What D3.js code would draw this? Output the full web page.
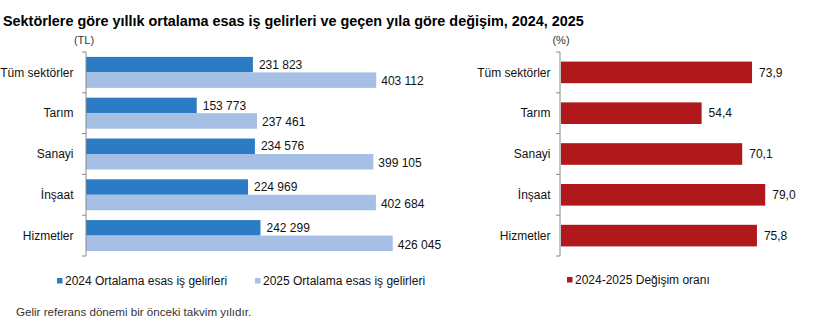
<!DOCTYPE html>
<html><head><meta charset="utf-8">
<script src="https://cdn.jsdelivr.net/npm/d3@7"></script>
<style>body{margin:0;background:#fff}svg{display:block;font-family:"Liberation Sans",Arial,sans-serif}</style>
</head><body>
<svg id="c" width="816" height="331"></svg>
<script>
const categories = ["Tüm sektörler","Tarım","Sanayi","İnşaat","Hizmetler"];
const values2024 = [231823,153773,234576,224969,242299];
const values2025 = [403112,237461,399105,402684,426045];
const changeRate = [73.9,54.4,70.1,79.0,75.8];
const seriesNames = ["2024 Ortalama esas iş gelirleri","2025 Ortalama esas iş gelirleri","2024-2025 Değişim oranı"];
const title = "Sektörlere göre yıllık ortalama esas iş gelirleri ve geçen yıla göre değişim, 2024, 2025";
const footnote = "Gelir referans dönemi bir önceki takvim yılıdır.";

const svg = d3.select("#c");
const c2024 = "#2b7cc4", c2025 = "#a6bfe4", cRed = "#b0181c", axisCol = "#8a8a8a";
const fmtTL = v => d3.format(",")(v).replace(/,/g," ");
const fmtPct = v => d3.format(".1f")(v).replace(".",",");

svg.append("text").attr("x",3).attr("y",26).attr("font-size",14.4).attr("font-weight","bold").attr("fill","#000").text(title);

const y = d3.scaleBand().domain(categories).range([52,256]).paddingInner(0).paddingOuter(0);

// Left chart
const x1 = d3.scaleLinear().domain([0,500000]).range([86,446]);
const barH = 15.5;
const gL = svg.append("g");
gL.selectAll("rect.a").data(categories).join("rect")
  .attr("x",x1(0)).attr("y",(d)=>y(d)+y.bandwidth()/2-barH)
  .attr("width",(d,i)=>x1(values2024[i])-x1(0)).attr("height",barH).attr("fill",c2024);
gL.selectAll("rect.b").data(categories).join("rect")
  .attr("x",x1(0)).attr("y",(d)=>y(d)+y.bandwidth()/2)
  .attr("width",(d,i)=>x1(values2025[i])-x1(0)).attr("height",barH).attr("fill",c2025);
gL.selectAll("text.a").data(categories).join("text")
  .attr("x",(d,i)=>x1(values2024[i])+6).attr("y",d=>y(d)+y.bandwidth()/2-barH/2)
  .attr("dy","0.35em").attr("font-size",12).attr("fill","#111").text((d,i)=>fmtTL(values2024[i]));
gL.selectAll("text.b").data(categories).join("text")
  .attr("x",(d,i)=>x1(values2025[i])+5).attr("y",d=>y(d)+y.bandwidth()/2+barH/2+1)
  .attr("dy","0.35em").attr("font-size",12).attr("fill","#111").text((d,i)=>fmtTL(values2025[i]));

function drawAxis(xpos, labelX){
  const g = svg.append("g").attr("transform",`translate(${xpos},0)`);
  g.append("line").attr("x1",0).attr("x2",0).attr("y1",52).attr("y2",256).attr("stroke",axisCol);
  const ticks = categories.map(d=>y(d)).concat([256]);
  g.selectAll("line.t").data(ticks).join("line").attr("x1",-4).attr("x2",0).attr("y1",d=>d).attr("y2",d=>d).attr("stroke",axisCol);
  svg.append("g").selectAll("text").data(categories).join("text")
    .attr("x",labelX).attr("y",d=>y(d)+y.bandwidth()/2).attr("dy","0.35em")
    .attr("text-anchor","end").attr("font-size",12).attr("fill","#111").text(d=>d);
}
drawAxis(86, 73.5);
svg.append("text").attr("x",84).attr("y",44).attr("text-anchor","middle").attr("font-size",11).attr("fill","#333").text("(TL)");

// Right chart
const x2 = d3.scaleLinear().domain([0,100]).range([561,819.5]);
const yb = y.copy().paddingInner(0.47).paddingOuter(0.235);
svg.append("g").selectAll("rect").data(categories).join("rect")
  .attr("x",x2(0)).attr("y",d=>yb(d)).attr("width",(d,i)=>x2(changeRate[i])-x2(0))
  .attr("height",yb.bandwidth()).attr("fill",cRed);
svg.append("g").selectAll("text").data(categories).join("text")
  .attr("x",(d,i)=>x2(changeRate[i])+7).attr("y",d=>y(d)+y.bandwidth()/2).attr("dy","0.35em")
  .attr("font-size",12).attr("fill","#111").text((d,i)=>fmtPct(changeRate[i]));
drawAxis(560, 550.5);
svg.append("text").attr("x",561).attr("y",44).attr("text-anchor","middle").attr("font-size",11).attr("fill","#333").text("(%)");

// Legends
function legend(x, yc, col, label){
  svg.append("rect").attr("x",x).attr("y",yc-3).attr("width",5.5).attr("height",5.5).attr("fill",col);
  svg.append("text").attr("x",x+8).attr("y",yc).attr("dy","0.35em").attr("font-size",12).attr("fill","#111").text(label);
}
legend(57,281,c2024,seriesNames[0]);
legend(255,281,c2025,seriesNames[1]);
legend(567,280,cRed,seriesNames[2]);

svg.append("text").attr("x",16).attr("y",312).attr("dy","0.35em").attr("font-size",11.6).attr("fill","#333").text(footnote);
</script>
</body></html>
